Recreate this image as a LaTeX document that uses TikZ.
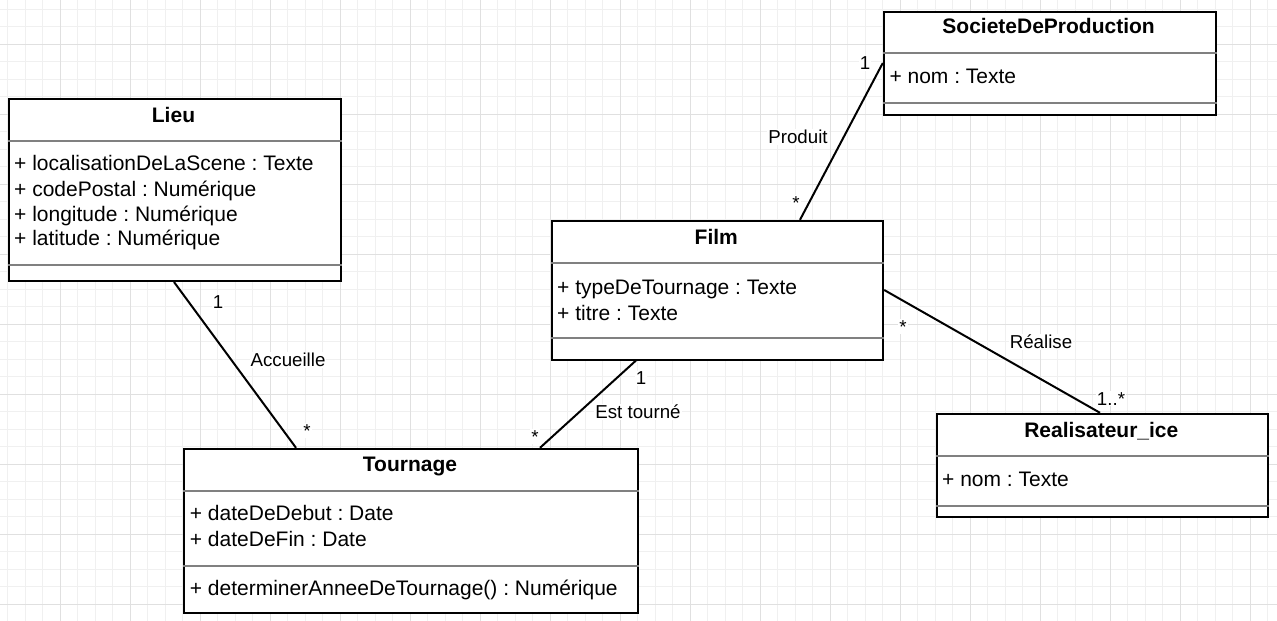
\documentclass[tikz,border=0pt]{standalone}
\usepackage{fontspec}
\setmainfont{Liberation Sans}
\frenchspacing
\definecolor{gridminor}{HTML}{F0F0F0}
\definecolor{gridmajor}{HTML}{E0E0E0}
\definecolor{sepgray}{HTML}{808080}
\tikzset{
  classbox/.style={draw=black, line width=2pt, fill=white, inner sep=0pt, anchor=north west},
  sepline/.style={draw=sepgray, line width=2pt},
  classtitle/.style={font=\bfseries\fontsize{21}{25}\selectfont, anchor=base, inner sep=0pt},
  attr/.style={font=\fontsize{21}{25}\selectfont, anchor=base west, inner sep=0pt},
  lbl/.style={font=\fontsize{18.7}{22}\selectfont, anchor=base, inner sep=1pt, fill=white},
  assoc/.style={draw=black, line width=2pt},
}
\begin{document}
\frenchspacing
\begin{tikzpicture}[x=1pt,y=-1pt]
\useasboundingbox (0,0) rectangle (1277,621);
\fill[white] (0,0) rectangle (1277,621);
% grid
\foreach \i in {0,...,72}{\draw[gridminor, line width=1pt] ({7.8+17.5*\i},0) -- ({7.8+17.5*\i},621);}
\foreach \j in {0,...,34}{\draw[gridminor, line width=1pt] (0,{9.3+17.5*\j}) -- (1277,{9.3+17.5*\j});}
\foreach \i in {0,...,17}{\draw[gridmajor, line width=1pt] ({60.3+70*\i},0) -- ({60.3+70*\i},621);}
\foreach \j in {0,...,8}{\draw[gridmajor, line width=1pt] (0,{44.3+70*\j}) -- (1277,{44.3+70*\j});}

% class boxes
\node[classbox, minimum width=332pt, minimum height=182.5pt] (lieu) at (7.5,97.5) {};
\node[classbox, minimum width=453.6pt, minimum height=164pt] (tournage) at (183.2,447.8) {};
\node[classbox, minimum width=331.7pt, minimum height=138.7pt] (film) at (550.5,219.8) {};
\node[classbox, minimum width=331.7pt, minimum height=103.3pt] (societe) at (882.8,10.5) {};
\node[classbox, minimum width=331.7pt, minimum height=103.4pt] (real) at (935.5,412.8) {};

% separators
\draw[sepline] (lieu.west |- 0,141) -- (lieu.east |- 0,141);
\draw[sepline] (lieu.west |- 0,265) -- (lieu.east |- 0,265);
\draw[sepline] (tournage.west |- 0,491) -- (tournage.east |- 0,491);
\draw[sepline] (tournage.west |- 0,566) -- (tournage.east |- 0,566);
\draw[sepline] (film.west |- 0,262.7) -- (film.east |- 0,262.7);
\draw[sepline] (film.west |- 0,337.7) -- (film.east |- 0,337.7);
\draw[sepline] (societe.west |- 0,52.7) -- (societe.east |- 0,52.7);
\draw[sepline] (societe.west |- 0,102.7) -- (societe.east |- 0,102.7);
\draw[sepline] (real.west |- 0,456) -- (real.east |- 0,456);
\draw[sepline] (real.west |- 0,506) -- (real.east |- 0,506);

% titles
\node[classtitle] (lieuT) at (173.5,122.5) {Lieu};
\node[classtitle] (tournageT) at (410,471.5) {Tournage};
\node[classtitle] (filmT) at (716.3,244.2) {Film};
\node[classtitle] (societeT) at (1048.6,33.5) {SocieteDeProduction};
\node[classtitle] (realT) at (1101.3,437) {Realisateur\_ice};

% attributes
\node[attr] (lieuA1) at (14,170.8) {+ localisationDeLaScene : Texte};
\node[attr] (lieuA2) at (14,196.8) {+ codePostal : Numérique};
\node[attr] (lieuA3) at (14,221.8) {+ longitude : Numérique};
\node[attr] (lieuA4) at (14,245.8) {+ latitude : Numérique};
\node[attr] (tournageA1) at (189.7,520.8) {+ dateDeDebut : Date};
\node[attr] (tournageA2) at (189.7,546.8) {+ dateDeFin : Date};
\node[attr] (tournageM1) at (189.7,595.8) {+ determinerAnneeDeTournage() : Numérique};
\node[attr] (filmA1) at (557,294.2) {+ typeDeTournage : Texte};
\node[attr] (filmA2) at (557,320.8) {+ titre : Texte};
\node[attr] (societeA1) at (889.3,83.5) {+ nom : Texte};
\node[attr] (realA1) at (942,486.5) {+ nom : Texte};

% associations
\draw[assoc] (lieu.south -| 174,0) -- (tournage.north -| 296,0);
\draw[assoc] (film.south -| 636,0) -- (tournage.north -| 540,0);
\draw[assoc] (film.north -| 800,0) -- (societe.west |- 0,63);
\draw[assoc] (film.east |- 0,290) -- (real.north -| 1100,0);

% association labels
\node[lbl] (m1) at (218,308.7) {1};
\node[lbl] (accueille) at (288,366.7) {Accueille};
\node[lbl] (m2) at (307,437) {*};
\node[lbl] (m3) at (641,384.7) {1};
\node[lbl] (esttourne) at (638,418.7) {Est tourné};
\node[lbl] (m4) at (535,443) {*};
\node[lbl] (m5) at (865,69.7) {1};
\node[lbl] (produit) at (798,143.7) {Produit};
\node[lbl] (m6) at (796,209) {*};
\node[lbl] (m7) at (903,333) {*};
\node[lbl] (realise) at (1041,348.7) {Réalise};
\node[lbl] (m8) at (1111,405) {1..*};
\end{tikzpicture}
\end{document}
